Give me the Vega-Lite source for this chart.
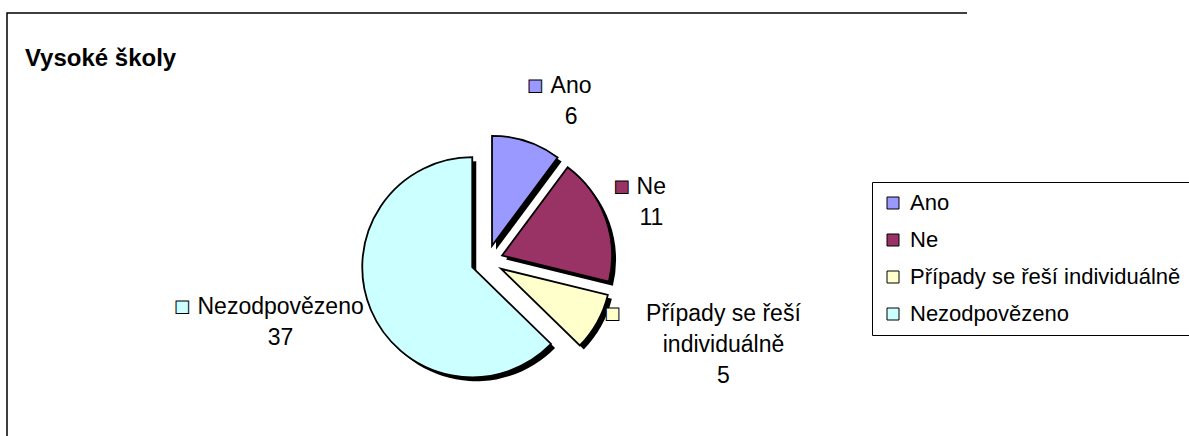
{
  "$schema": "https://vega.github.io/schema/vega-lite/v6.json",
  "width": 960,
  "height": 496,
  "autosize": {"type": "none"},
  "padding": {"left": 7, "top": 13, "right": 222, "bottom": -73},
  "background": "white",
  "view": {"stroke": "black", "strokeWidth": 1.5, "strokeDash": [960, 1456, 496]},
  "config": {
    "view": {"stroke": "black", "strokeWidth": 1.5, "strokeDash": [960, 1456, 496]}
  },
  "title": {
    "text": "Vysoké školy",
    "anchor": "start",
    "font": "Liberation Sans",
    "fontSize": 24,
    "fontWeight": "bold",
    "color": "black",
    "offset": 0,
    "dx": 18,
    "dy": 77,
    "baseline": "alphabetic"
  },
  "data": {
    "values": [
      {"kategorie": "Ano", "popisek": "Ano", "pocet": 6, "poradi": 1},
      {"kategorie": "Ne", "popisek": "Ne", "pocet": 11, "poradi": 2},
      {"kategorie": "Případy se řeší individuálně", "popisek": "Případy se řeší\nindividuálně", "pocet": 5, "poradi": 3},
      {"kategorie": "Nezodpovězeno", "popisek": "Nezodpovězeno", "pocet": 37, "poradi": 4}
    ]
  },
  "transform": [
    {"joinaggregate": [{"op": "sum", "field": "pocet", "as": "celkem"}]}
  ],
  "encoding": {
    "theta": {"field": "pocet", "type": "quantitative", "stack": true},
    "order": {"field": "poradi", "type": "quantitative"}
  },
  "layer": [
    {
      "mark": {
        "type": "arc",
        "radius": 110,
        "fill": "black",
        "xOffset": {"expr": "16*sin(PI*(datum.pocet_start+datum.pocet_end)/datum.celkem)+4"},
        "yOffset": {"expr": "-16*cos(PI*(datum.pocet_start+datum.pocet_end)/datum.celkem)+4"}
      },
      "encoding": {"detail": {"field": "kategorie", "type": "nominal"}}
    },
    {
      "mark": {
        "type": "arc",
        "radius": 110,
        "stroke": "black",
        "strokeWidth": 1.8,
        "xOffset": {"expr": "16*sin(PI*(datum.pocet_start+datum.pocet_end)/datum.celkem)"},
        "yOffset": {"expr": "-16*cos(PI*(datum.pocet_start+datum.pocet_end)/datum.celkem)"}
      },
      "encoding": {
        "color": {
          "field": "kategorie",
          "type": "nominal",
          "scale": {
            "domain": ["Ano", "Ne", "Případy se řeší individuálně", "Nezodpovězeno"],
            "range": ["#9999FF", "#993366", "#FFFFCC", "#CCFFFF"]
          },
          "legend": {
            "orient": "none",
            "legendX": 865,
            "legendY": 169,
            "title": null,
            "symbolType": "square",
            "symbolSize": 144,
            "symbolStrokeColor": "black",
            "symbolStrokeWidth": 1,
            "labelFont": "Liberation Sans",
            "labelFontSize": 22,
            "labelColor": "black",
            "labelOffset": 6,
            "labelLimit": 400,
            "rowPadding": 15,
            "padding": 10,
            "strokeColor": "black",
            "fillColor": "white"
          }
        }
      }
    },
    {
      "mark": {
        "type": "text",
        "radius": 138,
        "font": "Liberation Sans",
        "fontSize": 23,
        "lineHeight": 31,
        "lineBreak": "\n",
        "align": "center",
        "baseline": "middle",
        "fill": "black",
        "text": {"expr": "datum.popisek + '\\n' + datum.pocet"},
        "dx": {"expr": "(sin(PI*(datum.pocet_start+datum.pocet_end)/datum.celkem)>0?1:-1)*(12.5*length(split(datum.popisek,'\\n')[0])+20)/2+12"},
        "dy": {"expr": "-cos(PI*(datum.pocet_start+datum.pocet_end)/datum.celkem)*(31*(length(split(datum.popisek,'\\n'))+1)-8)/2-length(split(datum.popisek,'\\n'))*15.5-3"}
      },
      "encoding": {"detail": {"field": "kategorie", "type": "nominal"}}
    },
    {
      "mark": {
        "type": "text",
        "radius": 138,
        "text": "■",
        "font": "Liberation Sans",
        "fontSize": 26,
        "stroke": "black",
        "strokeWidth": 1,
        "align": "center",
        "baseline": "middle",
        "dx": {"expr": "(sin(PI*(datum.pocet_start+datum.pocet_end)/datum.celkem)>0?1:-1)*(12.5*length(split(datum.popisek,'\\n')[0])+20)/2-(12.5*length(split(datum.popisek,'\\n')[0])+20)/2+5"},
        "dy": {"expr": "-cos(PI*(datum.pocet_start+datum.pocet_end)/datum.celkem)*(31*(length(split(datum.popisek,'\\n'))+1)-8)/2-length(split(datum.popisek,'\\n'))*15.5-3"}
      },
      "encoding": {
        "color": {"field": "kategorie", "type": "nominal"}
      }
    }
  ]
}
